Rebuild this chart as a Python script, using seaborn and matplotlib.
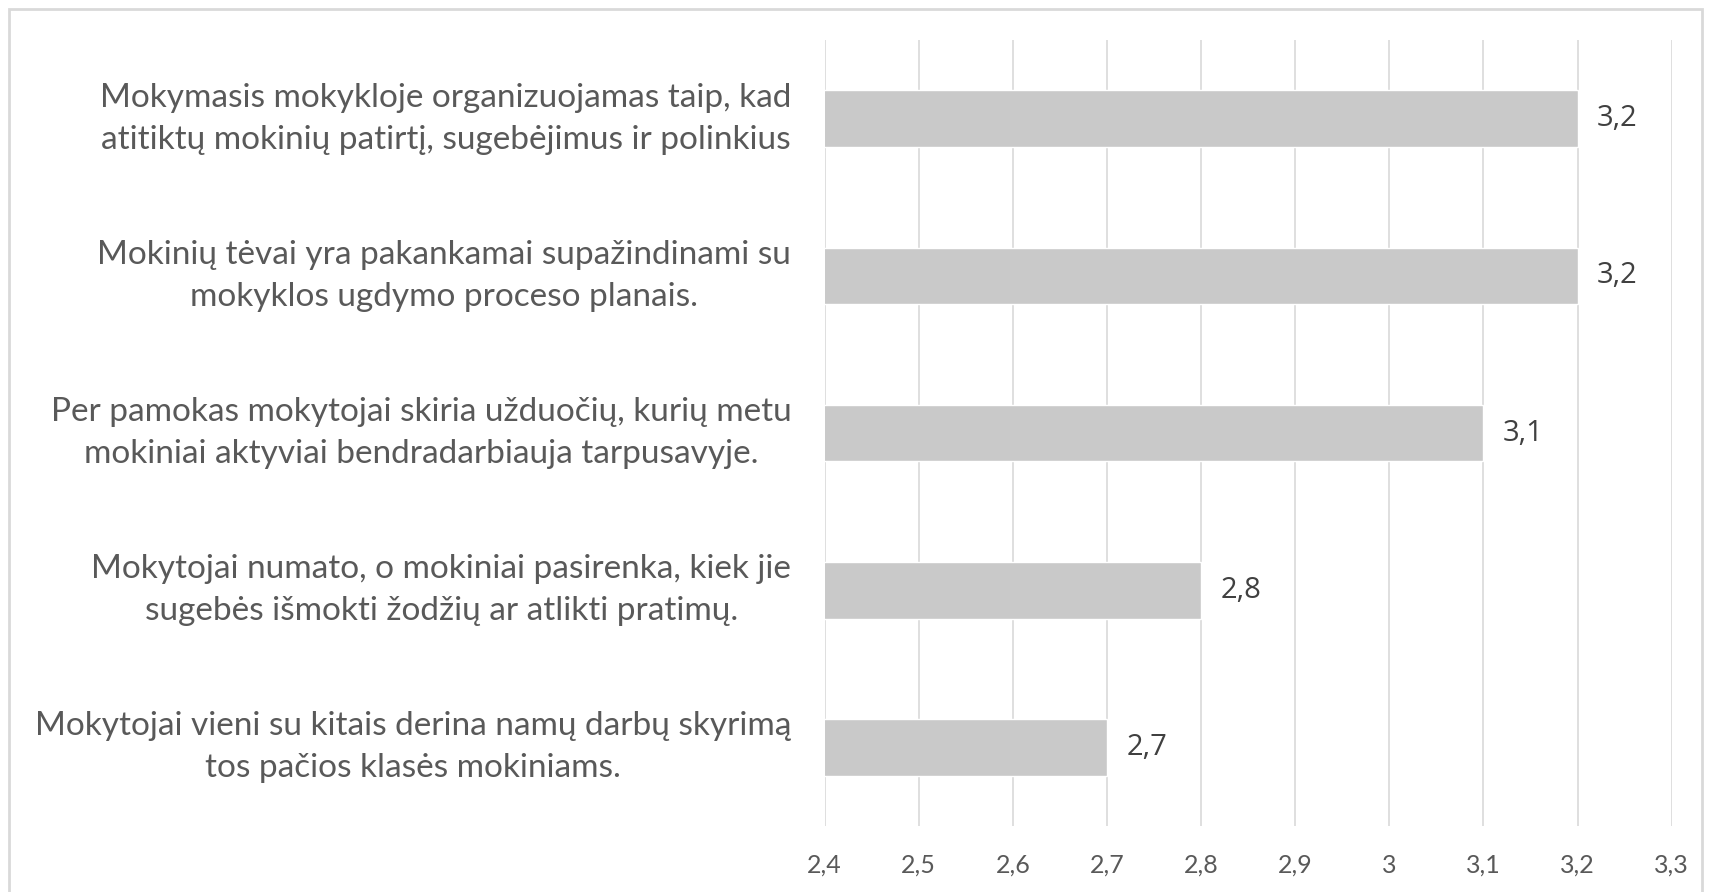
import matplotlib
matplotlib.use("Agg")
import matplotlib.pyplot as plt
import seaborn as sns
import pandas as pd
from matplotlib.patches import Rectangle

categories = [
    "Mokymasis mokykloje organizuojamas taip, kad\natitiktų mokinių patirtį, sugebėjimus ir polinkius",
    "Mokinių tėvai yra pakankamai supažindinami su\nmokyklos ugdymo proceso planais.",
    "Per pamokas mokytojai skiria užduočių, kurių metu\nmokiniai aktyviai bendradarbiauja tarpusavyje.",
    "Mokytojai numato, o mokiniai pasirenka, kiek jie\nsugebės išmokti žodžių ar atlikti pratimų.",
    "Mokytojai vieni su kitais derina namų darbų skyrimą\ntos pačios klasės mokiniams.",
]
values = [3.2, 3.2, 3.1, 2.8, 2.7]
xticks = [2.4, 2.5, 2.6, 2.7, 2.8, 2.9, 3.0, 3.1, 3.2, 3.3]
xtick_labels = ["2,4", "2,5", "2,6", "2,7", "2,8", "2,9", "3", "3,1", "3,2", "3,3"]

sns.set_theme(style="white")
plt.rcParams["font.family"] = ["Lato", "DejaVu Sans"]

df = pd.DataFrame({"cat": categories, "val": values})

fig = plt.figure(figsize=(17.11, 8.92), dpi=100)
ax = fig.add_axes([0.482, 0.074, 0.495, 0.881])

sns.barplot(data=df, x="val", y="cat", orient="h", color="#C9C9C9",
            saturation=1, width=0.36, ax=ax, zorder=2)

ax.set_xlim(2.4, 3.3)
ax.set_ylim(4.5, -0.5)
ax.set_xticks(xticks)
ax.set_xticklabels(xtick_labels)
ax.grid(axis="x", color="#D9D9D9", linewidth=1.2, zorder=0)
ax.set_axisbelow(True)
for s in ax.spines.values():
    s.set_visible(False)
ax.set_xlabel("")
ax.set_ylabel("")
ax.tick_params(axis="x", length=0, pad=20, labelsize=18, labelcolor="#595959")
ax.tick_params(axis="y", length=0, pad=24, labelsize=24, labelcolor="#595959")
for lbl in ax.get_yticklabels():
    lbl.set_multialignment("center")
    lbl.set_linespacing(1.5)
    lbl.set_verticalalignment("center")

for cont in ax.containers:
    ax.bar_label(cont, labels=[f"{v:.1f}".replace(".", ",") for v in values],
                 padding=14, fontsize=21, color="#404040",
                 family=["Open Sans", "DejaVu Sans"])

fig.patches.append(Rectangle((0.005, -0.02), 0.99, 1.01, transform=fig.transFigure,
                             fill=False, edgecolor="#D9D9D9", linewidth=2))

fig.savefig("out.png", dpi=100, facecolor="white")
